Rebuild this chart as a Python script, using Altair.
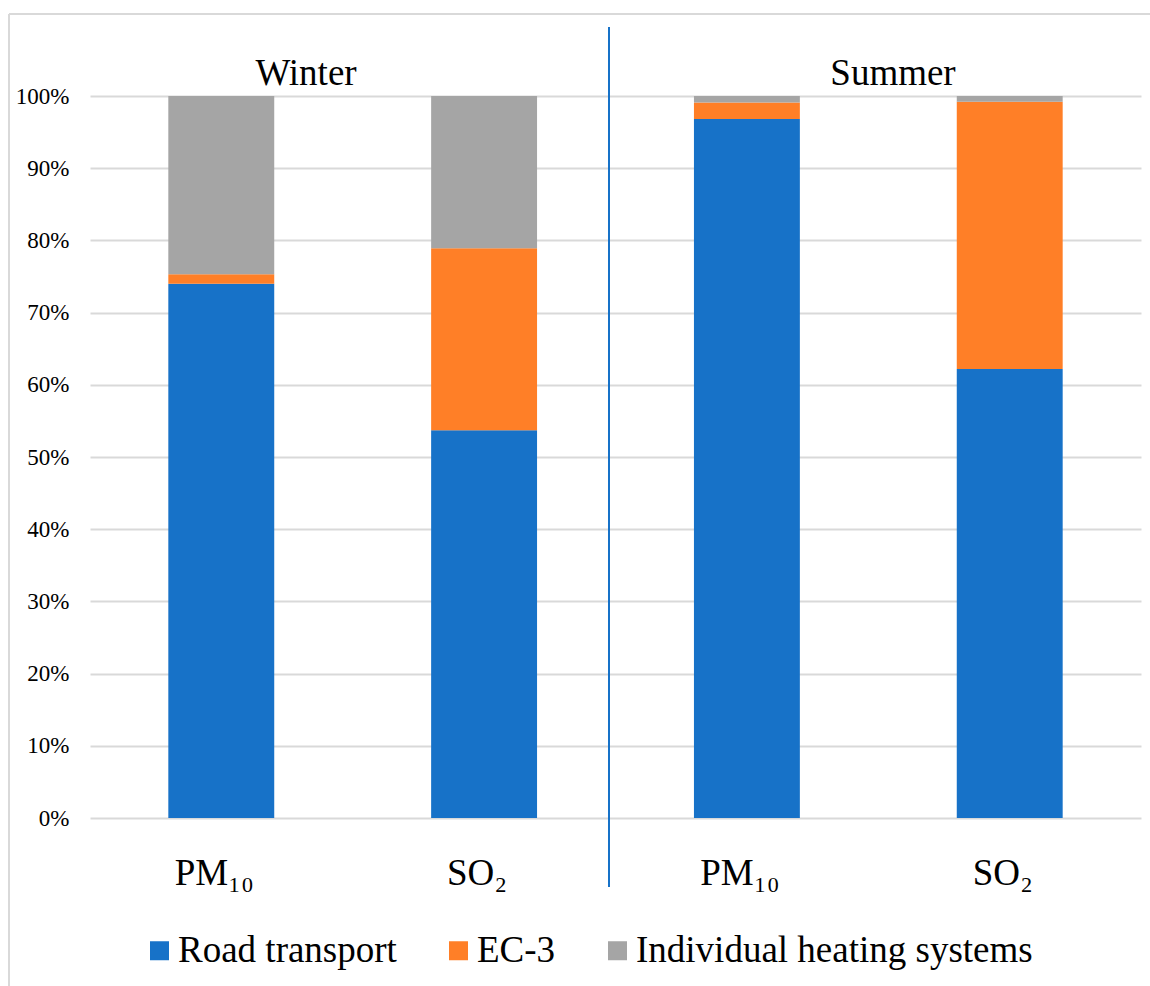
import altair as alt
import pandas as pd

# Bars: one per season/pollutant pair, in display order
bar_keys = ["Winter|PM₁₀", "Winter|SO₂", "Summer|PM₁₀", "Summer|SO₂"]
sources = ["Road transport", "EC-3", "Individual heating systems"]

# Share of each source (percent of total), read per bar
road_transport = [74.0, 53.7, 96.8, 62.2]
ec3 = [1.3, 25.2, 2.3, 37.0]
heating = [24.7, 21.1, 0.9, 0.8]

season_titles = ["Winter", "Summer"]
colors = ["#1772C8", "#FF7F27", "#A5A5A5"]
y_ticks = [i / 10 for i in range(11)]

rows = []
for series_idx, (name, vals) in enumerate(zip(sources, [road_transport, ec3, heating])):
    for key, v in zip(bar_keys, vals):
        rows.append({"bar": key, "source": name, "share": v / 100, "order": series_idx})
df = pd.DataFrame(rows)

SERIF = "Liberation Serif"
GRID = "#d9d9d9"

bars = alt.Chart(df).mark_bar().encode(
    x=alt.X(
        "bar:N",
        sort=bar_keys,
        scale=alt.Scale(paddingInner=0.597, paddingOuter=0.298),
        axis=alt.Axis(
            title=None,
            labelExpr="split(datum.label, '|')[1]",
            labelAngle=0,
            labelFont=SERIF,
            labelFontSize=37,
            labelColor="black",
            labelPadding=37,
            labelOffset=-7,
            domain=False,
            ticks=False,
        ),
    ),
    y=alt.Y(
        "share:Q",
        stack="zero",
        scale=alt.Scale(domain=[0, 1]),
        axis=alt.Axis(
            title=None,
            format=".0%",
            values=y_ticks,
            labelFont=SERIF,
            labelFontSize=23,
            labelColor="black",
            labelPadding=21,
            domain=False,
            ticks=False,
            grid=True,
            gridColor=GRID,
            gridWidth=2,
        ),
    ),
    color=alt.Color(
        "source:N",
        sort=sources,
        scale=alt.Scale(domain=sources, range=colors),
        legend=alt.Legend(
            title=None,
            orient="none",
            legendX=51,
            legendY=836,
            padding=0,
            direction="horizontal",
            symbolType="square",
            symbolSize=361,
            symbolStrokeWidth=0,
            labelFont=SERIF,
            labelFontSize=37,
            labelColor="black",
            labelOffset=0,
            columnPadding=43,
            labelLimit=600,
        ),
    ),
    order=alt.Order("order:Q", sort="ascending"),
)

# Season headings above each pair of bars
titles_df = pd.DataFrame({"season": season_titles, "px": [216, 803]})
titles = alt.Chart(titles_df).mark_text(
    font=SERIF, fontSize=37, color="black", baseline="alphabetic", align="center"
).encode(
    x=alt.X("px:Q", scale=None),
    y=alt.value(-11),
    text="season:N",
)

one = alt.Data(values=[{}])

# Vertical separator between the two seasons
divider = alt.Chart(one).mark_rule(color="#1772C8", strokeWidth=2).encode(
    x=alt.value(519), y=alt.value(-69), y2=alt.value(791)
)

# Light frame around the figure
frame_top = alt.Chart(one).mark_rule(color=GRID, strokeWidth=2).encode(
    x=alt.value(-81), x2=alt.value(1060), y=alt.value(-82)
)
frame_left = alt.Chart(one).mark_rule(color=GRID, strokeWidth=2).encode(
    x=alt.value(-81), y=alt.value(-82), y2=alt.value(890)
)

chart = (
    alt.layer(frame_top, frame_left, bars, titles, divider)
    .properties(
        width=1051,
        height=722,
        autosize=alt.AutoSizeParams(type="none"),
        padding={"left": 90, "top": 96, "right": 9, "bottom": 168},
        background="white",
    )
    .configure_view(stroke=None)
)

chart.save("out.html", embed_options={"renderer": "svg", "actions": False})
